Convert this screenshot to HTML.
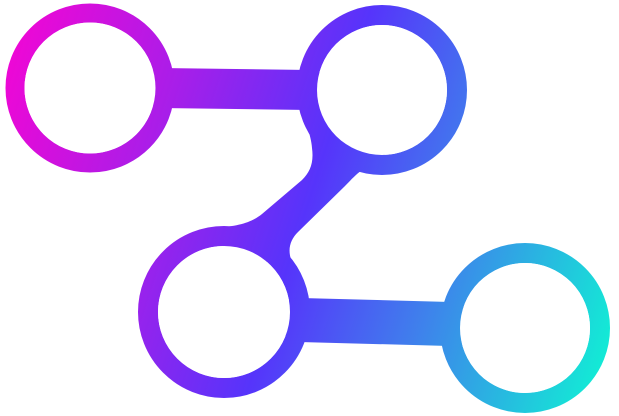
<!DOCTYPE html>
<html>
<head>
<meta charset="utf-8">
<style>
  html,body{margin:0;padding:0;background:#ffffff;}
  body{width:619px;height:416px;overflow:hidden;}
  svg{display:block;}
</style>
</head>
<body>
<svg width="619" height="416" viewBox="0 0 619 416">
  <defs>
    <linearGradient id="g" gradientUnits="userSpaceOnUse" x1="0" y1="100" x2="619" y2="300">
      <stop offset="0" stop-color="#ec08d6"/>
      <stop offset="0.25" stop-color="#a81ee9"/>
      <stop offset="0.5" stop-color="#5634fb"/>
      <stop offset="0.72" stop-color="#3f80ec"/>
      <stop offset="1" stop-color="#14e8d6"/>
    </linearGradient>
  </defs>
  <path fill="url(#g)"
    d="M300,92 L297,104 C303,116 311,133 312,148 C314,163 310,172 302,180 L262,214 C252,222 240,226 215,228 L230,262 L292,262 C287,250 290,240 298,232 L345,186 C355,176 362,166 385,160 L380,92 Z"/>
  <g fill="none" stroke="url(#g)">
    <path d="M160 88 L310 90" stroke-width="40" stroke-linecap="round"/>
    <path d="M300 320 L450 324" stroke-width="44" stroke-linecap="round"/>
    <circle cx="90" cy="88" r="75" stroke-width="19"/>
    <circle cx="382" cy="90" r="75" stroke-width="20"/>
    <circle cx="224" cy="312" r="76" stroke-width="20"/>
    <circle cx="525" cy="328" r="75" stroke-width="20"/>
  </g>
  <g fill="#ffffff">
    <circle cx="90" cy="88" r="65.5"/>
    <circle cx="382" cy="90" r="65"/>
    <circle cx="224" cy="312" r="66"/>
    <circle cx="525" cy="328" r="65"/>
  </g>
</svg>
</body>
</html>
